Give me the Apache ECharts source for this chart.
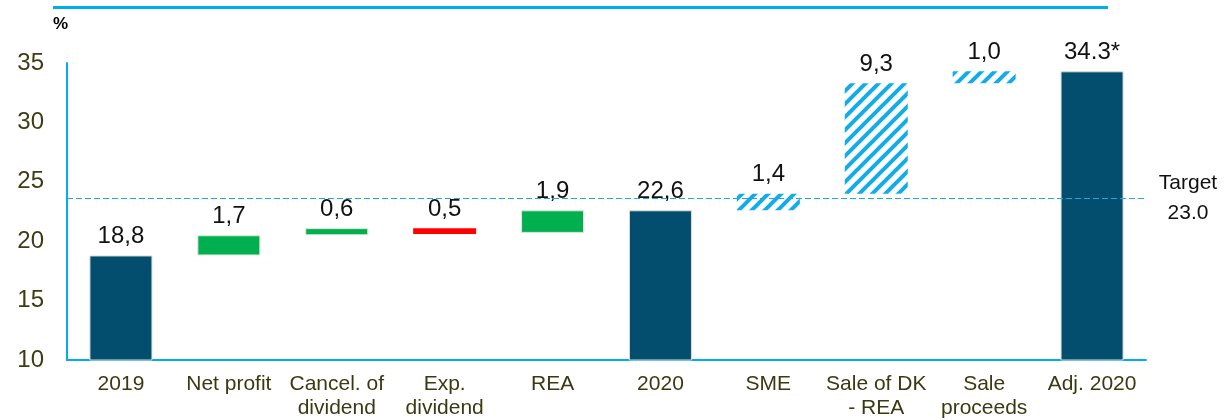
<!DOCTYPE html>
<html>
<head>
<meta charset="utf-8">
<style>
  html, body { margin: 0; padding: 0; background: #ffffff; }
  #chart { width: 1228px; height: 420px; }
</style>
<script src="https://cdn.jsdelivr.net/npm/echarts@6/dist/echarts.min.js"></script>
</head>
<body>
<div id="chart"></div>
<script>
// ---- data ----
const categories = ['2019', 'Net profit', 'Cancel. of\ndividend', 'Exp.\ndividend', 'REA', '2020', 'SME', 'Sale of DK\n- REA', 'Sale\nproceeds', 'Adj. 2020'];
const totalValues = [18.8, null, null, null, null, 22.6, null, null, null, 34.3];
const stepBases   = [null, 18.8, 20.5, 20.6, 20.7, null, 22.6, 24.0, 33.3, null];
const stepValues  = [null, 1.7, 0.6, 0.5, 1.9, null, 1.4, 9.3, 1.0, null];
const stepKinds   = ['total', 'increase', 'increase', 'decrease', 'increase', 'total', 'proforma', 'proforma', 'proforma', 'total'];
const valueLabels = ['18,8', '1,7', '0,6', '0,5', '1,9', '22,6', '1,4', '9,3', '1,0', '34.3*'];
const yMin = 10, yMax = 35, yStep = 5;
const targetValue = 23.0;      // value printed in the label
const targetLineLevel = 23.6;  // where the dashed line sits in the picture
const unitLabel = '%';

// ---- styles ----
const FONT = '"Liberation Sans", Arial, sans-serif';
const BLUE = '#00aeef';
const DARK = '#034e6e';
const GREEN = '#00b050';
const RED = '#ff0000';
const HATCH = '#12acea';
const TARGET_BLUE = '#1ea8e0';

function hatchPattern() {
  const s = 13;
  const c = document.createElement('canvas');
  c.width = s; c.height = s;
  const g = c.getContext('2d');
  g.fillStyle = '#ffffff';
  g.fillRect(0, 0, s, s);
  g.strokeStyle = HATCH;
  g.lineWidth = 4;
  g.lineCap = 'square';
  g.beginPath();
  g.moveTo(-3, s + 3); g.lineTo(s + 3, -3);
  g.moveTo(-3, 3); g.lineTo(3, -3);
  g.moveTo(s - 3, s + 3); g.lineTo(s + 3, s - 3);
  g.stroke();
  return { image: c, repeat: 'repeat' };
}
const hatch = hatchPattern();

function styleFor(kind) {
  if (kind === 'total') return { color: DARK, borderColor: '#d8dfd8', borderWidth: 1 };
  if (kind === 'increase') return { color: GREEN, borderColor: '#e2e6d6', borderWidth: 1 };
  if (kind === 'decrease') return { color: RED, borderWidth: 0 };
  return { color: hatch, borderWidth: 0 };
}

const baseData = stepBases.map(v => (v == null ? 0 : v));
const visibleData = categories.map((c, i) => ({
  value: totalValues[i] != null ? totalValues[i] : stepValues[i],
  itemStyle: styleFor(stepKinds[i])
}));

const targetLineStyle = { type: [6, 3], color: TARGET_BLUE, width: 1, opacity: 1 };

const chart = echarts.init(document.getElementById('chart'), null, { renderer: 'canvas' });
chart.setOption({
  animation: false,
  backgroundColor: '#ffffff',
  grid: { left: 67, right: 82, top: 63, bottom: 59 },
  xAxis: {
    type: 'category',
    data: categories,
    axisLine: { show: true, lineStyle: { color: BLUE, width: 2 } },
    axisTick: { show: false },
    axisLabel: {
      interval: 0, margin: 12, color: '#3a3a12',
      fontFamily: FONT, fontSize: 21, lineHeight: 24
    }
  },
  yAxis: {
    type: 'value',
    min: yMin, max: yMax, interval: yStep,
    axisLine: { show: true, lineStyle: { color: BLUE, width: 2 } },
    axisTick: { show: false },
    splitLine: { show: false },
    axisLabel: { margin: 23, color: '#3d3d15', fontFamily: FONT, fontSize: 24 }
  },
  series: [
    {
      name: 'base', type: 'bar', stack: 'wf', silent: true,
      barWidth: 63,
      itemStyle: { color: 'rgba(0,0,0,0)' },
      emphasis: { disabled: true },
      data: baseData
    },
    {
      name: 'value', type: 'bar', stack: 'wf',
      barWidth: 63,
      data: visibleData,
      label: {
        show: true, position: 'top', distance: 7,
        color: '#111111', fontFamily: FONT, fontSize: 24, lineHeight: 24,
        formatter: p => valueLabels[p.dataIndex]
      },
      markLine: {
        silent: true,
        symbol: 'none',
        lineStyle: targetLineStyle,
        emphasis: { disabled: true },
        label: {
          show: true, position: 'end', distance: 42,
          align: 'center', verticalAlign: 'middle',
          color: '#111111', fontFamily: FONT, fontSize: 21, lineHeight: 30,
          formatter: () => 'Target\n' + targetValue.toFixed(1)
        },
        data: [{ yAxis: targetLineLevel, lineStyle: targetLineStyle }]
      }
    }
  ],
  graphic: [
    {
      type: 'line',
      shape: { x1: 53, y1: 7.5, x2: 1108, y2: 7.5 },
      style: { stroke: BLUE, lineWidth: 3 }
    },
    {
      type: 'text', left: 53, top: 16,
      style: { text: unitLabel, fill: '#000000', font: 'bold 17px ' + FONT }
    }
  ]
});
</script>
</body>
</html>
